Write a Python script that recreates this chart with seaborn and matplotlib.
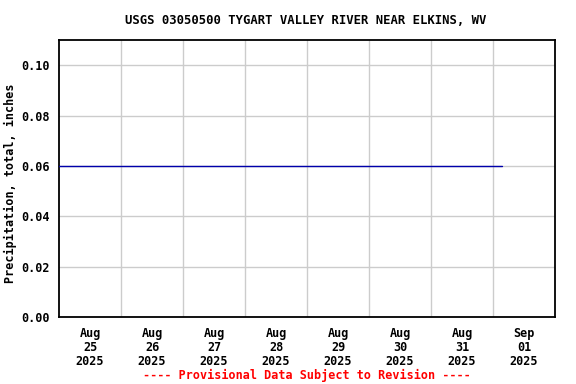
import matplotlib
matplotlib.use("Agg")
import matplotlib.pyplot as plt
import pandas as pd
import seaborn as sns

title = "USGS 03050500 TYGART VALLEY RIVER NEAR ELKINS, WV"
ylabel = "Precipitation, total, inches"
footer = "---- Provisional Data Subject to Revision ----"

times = ["2025-08-25 00:00", "2025-09-01 03:30"]
values = [0.06, 0.06]
xlim = ["2025-08-25 00:00", "2025-09-02 00:00"]
yticks = [0.00, 0.02, 0.04, 0.06, 0.08, 0.10]
xtick_labels = ["Aug\n25\n2025", "Aug\n26\n2025", "Aug\n27\n2025", "Aug\n28\n2025",
                "Aug\n29\n2025", "Aug\n30\n2025", "Aug\n31\n2025", "Sep\n01\n2025"]

sns.set_style("white")
plt.rcParams['font.family'] = ['DejaVu Sans Mono']
plt.rcParams['font.weight'] = 'bold'
for k in ['text.color', 'axes.labelcolor', 'xtick.color', 'ytick.color']:
    plt.rcParams[k] = 'black'

df = pd.DataFrame({"time": pd.to_datetime(times), "value": values})

fig = plt.figure(figsize=(5.76, 3.84), dpi=100)
ax = fig.add_axes([59/576, 1 - 317/384, (555-59)/576, (317-40)/384])

sns.lineplot(data=df, x="time", y="value", ax=ax, color="#0000aa", linewidth=1, zorder=3)

x0, x1 = pd.to_datetime(xlim)
ax.set_xlim(x0, x1)
ax.set_ylim(0, 0.11)

days = pd.date_range(x0, x1, freq="D")
ax.set_xticks(days[1:-1], minor=False)
ax.set_xticklabels([])
noons = pd.date_range(pd.Timestamp("2025-08-25 12:00"), periods=8, freq="D")
ax.set_xticks(noons, minor=True)
ax.set_xticklabels(xtick_labels, minor=True, fontsize=8.5, fontweight='bold', linespacing=1.1)
ax.tick_params(axis='x', which='both', length=0, pad=7)

ax.set_yticks(yticks)
ax.set_yticklabels([f"{v:.2f}" for v in yticks], fontsize=8.5, fontweight='bold')
ax.tick_params(axis='y', length=0, pad=7)

ax.grid(True, which='major', color='#cccccc', linewidth=1, zorder=0)
ax.set_axisbelow(True)
for s in ax.spines.values():
    s.set_color('black')
    s.set_linewidth(1.3)

ax.set_xlabel("")
ax.set_ylabel(ylabel, fontsize=8.5, fontweight='bold')
ax.yaxis.set_label_coords(-(59 - 17) / 496, (317 - 183) / 277)
fig.text(306/576, 1 - 20/384, title, ha='center', va='center', fontsize=8.8, fontweight='bold')
fig.text(307/576, 1 - 375/384, footer, ha='center', va='center', fontsize=8.5, fontweight='bold', color='red')

fig.savefig("out.png", dpi=100)
